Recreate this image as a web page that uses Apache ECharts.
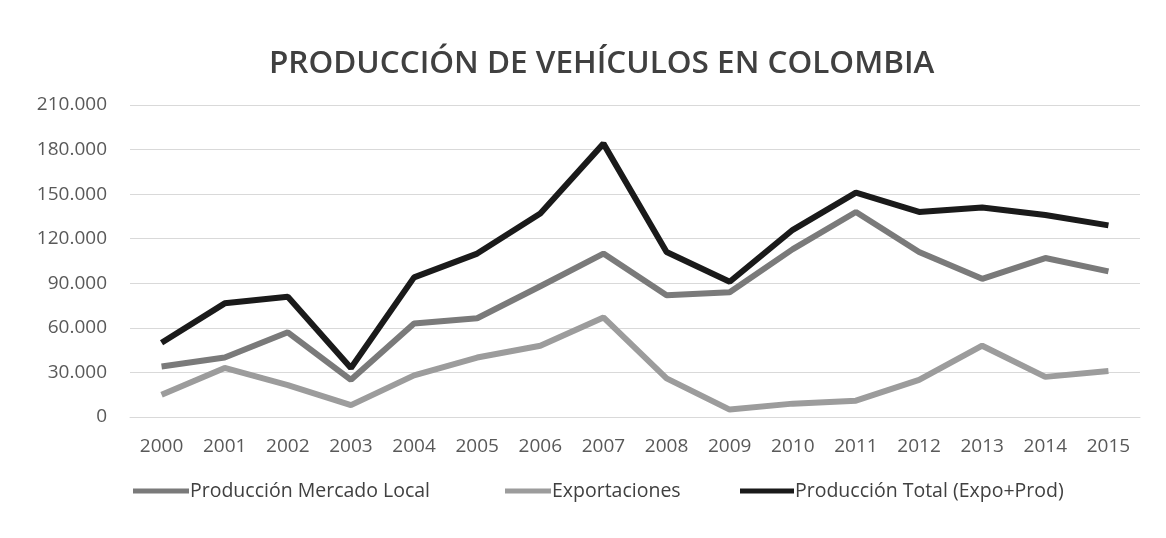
<!DOCTYPE html>
<html>
<head>
<meta charset="utf-8">
<script src="https://cdn.jsdelivr.net/npm/echarts@6/dist/echarts.min.js"></script>
<style>html,body{margin:0;padding:0;background:#fff}#c{width:1166px;height:538px}</style>
</head>
<body>
<div id="c"></div>
<script>
const years = ['2000','2001','2002','2003','2004','2005','2006','2007','2008','2009','2010','2011','2012','2013','2014','2015'];
const mercadoLocal = [34000, 40000, 57000, 25000, 63000, 66500, 88000, 110000, 82000, 84000, 113000, 138000, 111000, 93000, 107000, 98000];
const exportaciones = [15000, 33000, 21500, 8000, 28000, 40000, 48000, 67000, 26000, 5000, 9000, 11000, 25000, 48000, 27000, 31000];
const produccionTotal = [50000, 76500, 81000, 33000, 94000, 110000, 137000, 184000, 111000, 91000, 126000, 151000, 138000, 141000, 136000, 129000];
const seriesNames = ['Producción Mercado Local', 'Exportaciones', 'Producción Total (Expo+Prod)'];
const titleText = 'PRODUCCIÓN DE VEHÍCULOS EN COLOMBIA';

const chart = echarts.init(document.getElementById('c'));
const fmt = v => v === 0 ? '0' : (v/1000).toFixed(0) + '.000';
const legendText = { fontFamily: 'Open Sans', fontSize: 19.5, color: '#404040', padding: [0,0,0,-4] };
const legendBase = { top: 476, itemHeight: 5, icon: 'rect', textStyle: legendText };
chart.setOption({
  backgroundColor: '#ffffff',
  animation: false,
  title: {
    text: titleText, left: 264, top: 43,
    textStyle: { fontFamily: 'Open Sans', fontWeight: 600, fontSize: 31.5, color: '#404040' }
  },
  legend: [
    Object.assign({ left: 128, itemWidth: 56, data: [seriesNames[0]] }, legendBase),
    Object.assign({ left: 500, itemWidth: 46, data: [seriesNames[1]] }, legendBase),
    Object.assign({ left: 735, itemWidth: 54, data: [seriesNames[2]] }, legendBase)
  ],
  grid: { left: 130, right: 26, top: 105, bottom: 121 },
  xAxis: {
    type: 'category', data: years, boundaryGap: true,
    axisLine: { show: true, lineStyle: { color: '#d9d9d9' } },
    axisTick: { show: false },
    axisLabel: { fontFamily: 'Open Sans', fontSize: 19, color: '#595959', margin: 20 }
  },
  yAxis: {
    type: 'value', min: 0, max: 210000, interval: 30000,
    axisLine: { show: false }, axisTick: { show: false },
    splitLine: { lineStyle: { color: '#d9d9d9', width: 1 } },
    axisLabel: { fontFamily: 'Open Sans', fontSize: 19, color: '#595959', margin: 23, formatter: fmt }
  },
  series: [
    { name: seriesNames[0], type: 'line', data: mercadoLocal, symbol: 'none', color: '#7a7a7a', lineStyle: { width: 6, color: '#7a7a7a' }, z: 2 },
    { name: seriesNames[1], type: 'line', data: exportaciones, symbol: 'none', color: '#9c9c9c', lineStyle: { width: 6, color: '#9c9c9c' }, z: 1 },
    { name: seriesNames[2], type: 'line', data: produccionTotal, symbol: 'none', color: '#1a1a1a', lineStyle: { width: 6, color: '#1a1a1a' }, z: 3 }
  ]
});
</script>
</body>
</html>
